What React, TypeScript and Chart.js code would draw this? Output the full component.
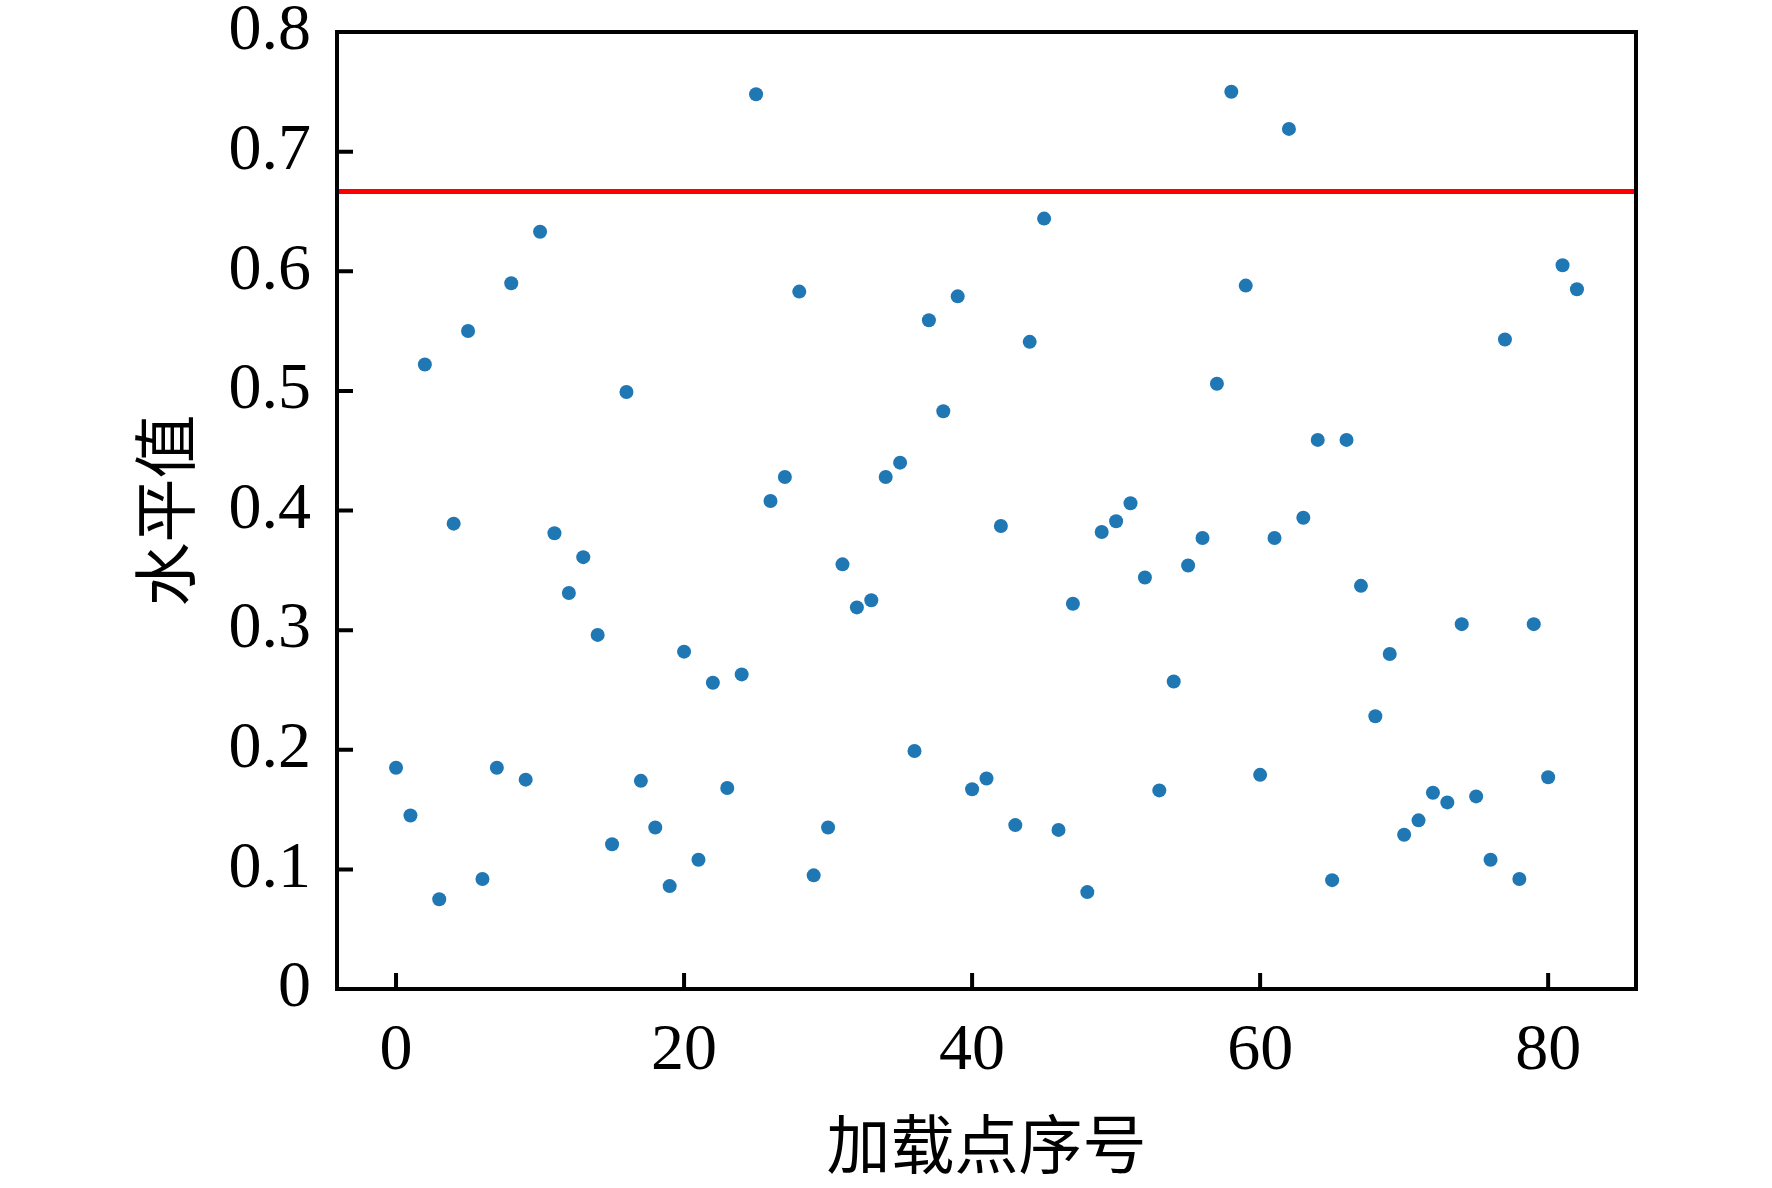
import React, { useEffect, useRef } from 'react';
import { Chart, registerables } from 'chart.js';

Chart.register(...registerables);

// 加载点序号 0..82 and measured 水平值
const pointIndex: number[] = Array.from({ length: 83 }, (_, i) => i);
const levelValues: number[] = [
  0.185, 0.145, 0.522, 0.075, 0.389, 0.550, 0.092, 0.185, 0.590, 0.175,
  0.633, 0.381, 0.331, 0.361, 0.296, 0.121, 0.499, 0.174, 0.135, 0.086,
  0.282, 0.108, 0.256, 0.168, 0.263, 0.748, 0.408, 0.428, 0.583, 0.095,
  0.135, 0.355, 0.319, 0.325, 0.428, 0.440, 0.199, 0.559, 0.483, 0.579,
  0.167, 0.176, 0.387, 0.137, 0.541, 0.644, 0.133, 0.322, 0.081, 0.382,
  0.391, 0.406, 0.344, 0.166, 0.257, 0.354, 0.377, 0.506, 0.750, 0.588,
  0.179, 0.377, 0.719, 0.394, 0.459, 0.091, 0.459, 0.337, 0.228, 0.280,
  0.129, 0.141, 0.164, 0.156, 0.305, 0.161, 0.108, 0.543, 0.092, 0.305,
  0.177, 0.605, 0.585,
];
const threshold = 2 / 3;

const xTicks: number[] = [0, 20, 40, 60, 80];
const yTicks: number[] = [0, 0.1, 0.2, 0.3, 0.4, 0.5, 0.6, 0.7, 0.8];
const xMin = -4.1;
const xMax = 86.1;

const serif = "'Liberation Serif', 'Times New Roman', serif";
const cjk = "'Noto Sans CJK SC', sans-serif";

// frame + inward tick marks, like the original figure
const framePlugin = {
  id: 'frame',
  afterDraw(chart: any) {
    const { ctx, chartArea } = chart;
    const { left, right, top, bottom } = chartArea;
    const xs = chart.scales.x;
    const ys = chart.scales.y;
    ctx.save();
    ctx.strokeStyle = '#000';
    ctx.lineWidth = 4;
    ctx.beginPath();
    xTicks.forEach(v => {
      const px = xs.getPixelForValue(v);
      ctx.moveTo(px, bottom);
      ctx.lineTo(px, bottom - 16);
    });
    yTicks.forEach(v => {
      const py = ys.getPixelForValue(v);
      ctx.moveTo(left, py);
      ctx.lineTo(left + 16, py);
    });
    ctx.stroke();
    ctx.strokeRect(left, top, right - left, bottom - top);
    ctx.restore();
  },
};

const App: React.FC = () => {
  const chartRef = useRef<HTMLCanvasElement | null>(null);
  const chartInstanceRef = useRef<any>(null);

  useEffect(() => {
    if (chartInstanceRef.current) {
      chartInstanceRef.current.destroy();
    }
    const ctx = chartRef.current?.getContext('2d');
    if (!ctx) return;

    chartInstanceRef.current = new Chart(ctx, {
      type: 'scatter',
      data: {
        datasets: [
          {
            label: '水平值',
            data: pointIndex.map((x, i) => ({ x, y: levelValues[i] })),
            backgroundColor: '#1f77b4',
            borderWidth: 0,
            pointRadius: 7,
            pointHoverRadius: 7,
          },
          {
            type: 'line',
            label: '阈值',
            data: [
              { x: xMin, y: threshold },
              { x: xMax, y: threshold },
            ],
            borderColor: '#ff0000',
            borderWidth: 5,
            pointRadius: 0,
            fill: false,
          } as any,
        ],
      },
      options: {
        responsive: false,
        animation: false,
        devicePixelRatio: 1,
        layout: { padding: { left: 0, top: 32, right: 136, bottom: 0 } },
        plugins: {
          legend: { display: false },
          tooltip: { enabled: false },
        },
        scales: {
          x: {
            type: 'linear',
            min: xMin,
            max: xMax,
            afterBuildTicks: (scale: any) => {
              scale.ticks = xTicks.map(value => ({ value }));
            },
            afterFit: (scale: any) => {
              scale.height = 199;
              scale.paddingLeft = 0;
              scale.paddingRight = 0;
            },
            grid: { display: false },
            border: { display: false },
            ticks: {
              color: '#000',
              padding: 15,
              maxRotation: 0,
              font: { family: serif, size: 66 },
              callback: (v: any) => String(v),
            },
            title: {
              display: true,
              text: '加载点序号',
              color: '#000',
              font: { family: cjk, size: 64 },
              padding: { top: 0, bottom: 6 },
            },
          },
          y: {
            type: 'linear',
            min: 0,
            max: 0.8,
            afterBuildTicks: (scale: any) => {
              scale.ticks = yTicks.map(value => ({ value }));
            },
            afterFit: (scale: any) => {
              scale.width = 337;
              scale.paddingTop = 0;
              scale.paddingBottom = 0;
            },
            grid: { display: false },
            border: { display: false },
            ticks: {
              color: '#000',
              padding: 18,
              font: { family: serif, size: 66 },
              callback: (v: any) => (Number(v) === 0 ? '0' : Number(v).toFixed(1)),
            },
            title: {
              display: true,
              text: '水平值',
              color: '#000',
              font: { family: cjk, size: 64 },
              padding: { top: 126, bottom: 0 },
            },
          },
        },
      },
      plugins: [framePlugin],
    });

    return () => {
      if (chartInstanceRef.current) {
        chartInstanceRef.current.destroy();
        chartInstanceRef.current = null;
      }
    };
  }, []);

  return (
    <div style={{ position: 'fixed', left: 0, top: 0, width: 1772, height: 1188, background: '#fff' }}>
      <canvas ref={chartRef} width={1772} height={1188} style={{ display: 'block' }}></canvas>
    </div>
  );
};

export default App;
